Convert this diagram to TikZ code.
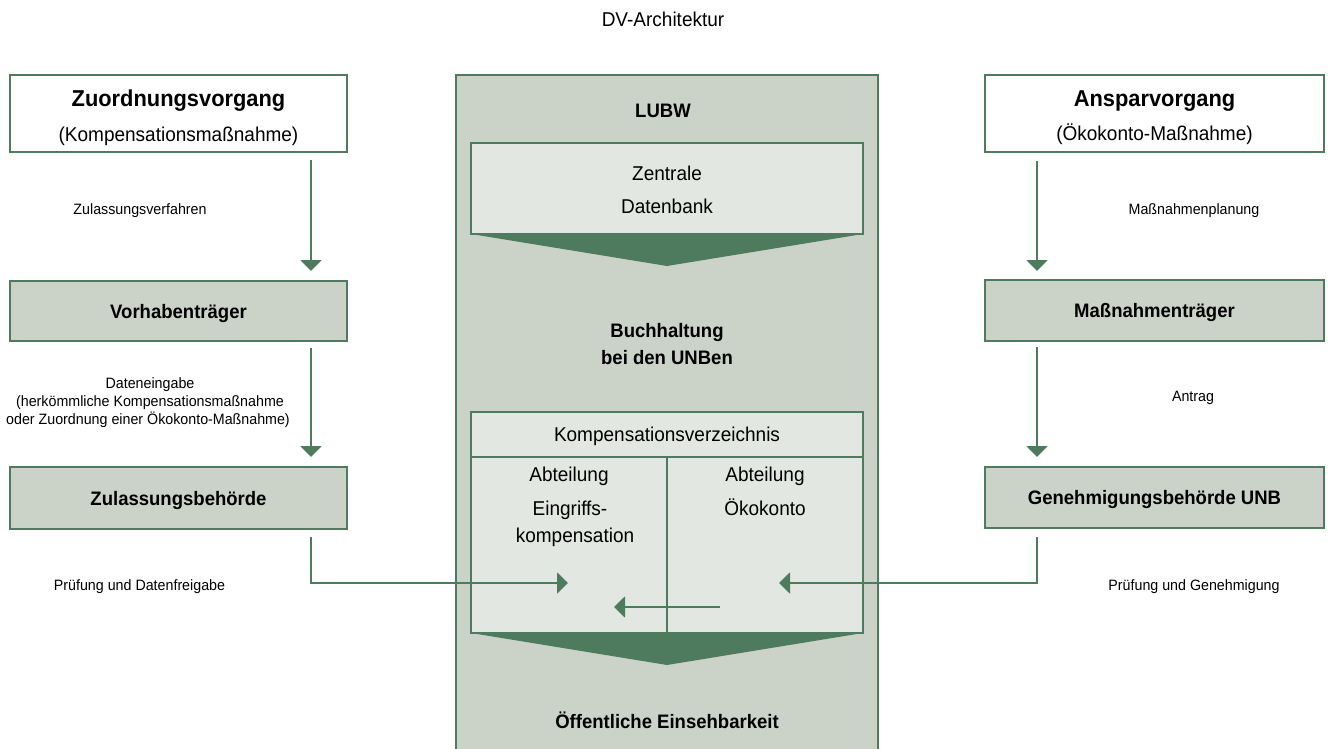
\documentclass[tikz,border=0pt]{standalone}
\usepackage{fontspec}
\setmainfont[FakeStretch=0.95]{Liberation Sans}
\usetikzlibrary{arrows.meta}
\definecolor{dg}{HTML}{4E7B5D}
\definecolor{pf}{HTML}{CBD3C9}
\definecolor{lf}{HTML}{E3E7E2}
\tikzset{
  gbox/.style={draw=dg, line width=2pt, inner sep=0pt, outer sep=0pt},
  headbox/.style={gbox, fill=white},
  actbox/.style={gbox, fill=pf, font=\fontsize{19.5}{22}\selectfont\bfseries, text height=14pt, text depth=0pt},
  innerbox/.style={gbox, line width=1.5pt, fill=lf},
  txt/.style={inner sep=0pt, outer sep=0pt, anchor=base},
  bigreg/.style={txt, font=\fontsize{20}{24}\selectfont},
  smallreg/.style={txt, font=\fontsize{15}{18}\selectfont},
  boldlab/.style={txt, font=\fontsize{19.5}{22}\selectfont\bfseries},
  headline/.style={txt, font=\fontsize{23}{26}\selectfont\bfseries},
  arr/.style={draw=dg, line width=2pt, -{Triangle[width=21pt,length=11pt]}, line join=miter},
}
\begin{document}
\begin{tikzpicture}[x=1pt,y=-1pt]
\useasboundingbox (0,0) rectangle (1331,749);

% title
\node[bigreg] (title) at (663,26.5) {DV-Architektur};

% left column
\node[headbox, minimum width=337pt, minimum height=77pt] (zuo) at (178.5,113.5) {};
\node[headline] (zuoT) at (178.5,106.5) {Zuordnungsvorgang};
\node[bigreg] (zuoS) at (178.5,141.5) {(Kompensationsmaßnahme)};
\node[actbox, minimum width=337pt, minimum height=60pt] (vor) at (178.5,311) {Vorhabenträger};
\node[actbox, minimum width=337pt, minimum height=62pt] (zul) at (178.5,498) {Zulassungsbehörde};

% right column
\node[headbox, minimum width=339pt, minimum height=77pt] (ans) at (1154.5,113.5) {};
\node[headline] (ansT) at (1154.5,106.5) {Ansparvorgang};
\node[bigreg] (ansS) at (1154.5,141) {(Ökokonto-Maßnahme)};
\node[actbox, minimum width=339pt, minimum height=61pt] (mass) at (1154.5,310.5) {Maßnahmenträger};
\node[actbox, minimum width=339pt, minimum height=61pt] (gen) at (1154.5,497.5) {Genehmigungsbehörde UNB};

% centre panel
\node[gbox, fill=pf, minimum width=422pt, minimum height=725pt] (panel) at (667,437.5) {};
\node[boldlab] (lubw) at (663,118) {LUBW};
\node[innerbox, minimum width=392pt, minimum height=91pt] (db) at (667,188.5) {};
\node[bigreg] (db1) at (667,180) {Zentrale};
\node[bigreg] (db2) at (667,213) {Datenbank};
\coordinate (ap1) at (667,266);
\fill[dg] (db.south west) -- (db.south east) -- (ap1) -- cycle;
\node[boldlab] (bh1) at (667,337) {Buchhaltung};
\node[boldlab] (bh2) at (667,364) {bei den UNBen};

\node[innerbox, minimum width=392pt, minimum height=45pt] (kv) at (667,434.5) {};
\node[bigreg] (kvT) at (667,441.5) {Kompensationsverzeichnis};
\node[innerbox, minimum width=196pt, minimum height=176pt] (abl) at (569,545) {};
\node[innerbox, minimum width=196pt, minimum height=176pt] (abr) at (765,545) {};
\node[bigreg] (abl1) at (569,481.5) {Abteilung};
\node[bigreg] (abl2) at (570,515) {Eingriffs-};
\node[bigreg] (abl3) at (575,542.5) {kompensation};
\node[bigreg] (abr1) at (765,481.5) {Abteilung};
\node[bigreg] (abr2) at (765,515) {Ökokonto};
\coordinate (ap2) at (667,665);
\fill[dg] (abl.south west) -- (abr.south east) -- (ap2) -- cycle;
\node[boldlab] (oeff) at (667,728) {Öffentliche Einsehbarkeit};

% connector labels
\node[smallreg] (l1) at (140,214) {Zulassungsverfahren};
\node[smallreg] (l2a) at (150,388) {Dateneingabe};
\node[smallreg] (l2b) at (150,406) {(herkömmliche Kompensationsmaßnahme};
\node[smallreg] (l2c) at (148,424) {oder Zuordnung einer Ökokonto-Maßnahme)};
\node[smallreg] (l3) at (139.5,590) {Prüfung und Datenfreigabe};
\node[smallreg] (r1) at (1194,214) {Maßnahmenplanung};
\node[smallreg] (r2) at (1193,401) {Antrag};
\node[smallreg] (r3) at (1194,590) {Prüfung und Genehmigung};

% connectors
\coordinate (xl) at (311,0);
\coordinate (xr) at (1037,0);
\coordinate (t1) at (568,583);
\coordinate (t2) at (779,583);
\coordinate (b1) at (720,607);
\coordinate (b2) at (614,607);
\draw[arr, shorten <=8pt, shorten >=10pt] (zuo.south -| xl) -- (vor.north -| xl);
\draw[arr, shorten <=7pt, shorten >=10pt] (vor.south -| xl) -- (zul.north -| xl);
\draw[arr, shorten <=8pt] (zul.south -| xl) -- (xl |- t1) -- (t1);
\draw[arr, shorten <=9pt, shorten >=9pt] (ans.south -| xr) -- (mass.north -| xr);
\draw[arr, shorten <=6pt, shorten >=10pt] (mass.south -| xr) -- (gen.north -| xr);
\draw[arr, shorten <=9pt] (gen.south -| xr) -- (xr |- t2) -- (t2);
\draw[arr] (b1) -- (b2);
\end{tikzpicture}
\end{document}
